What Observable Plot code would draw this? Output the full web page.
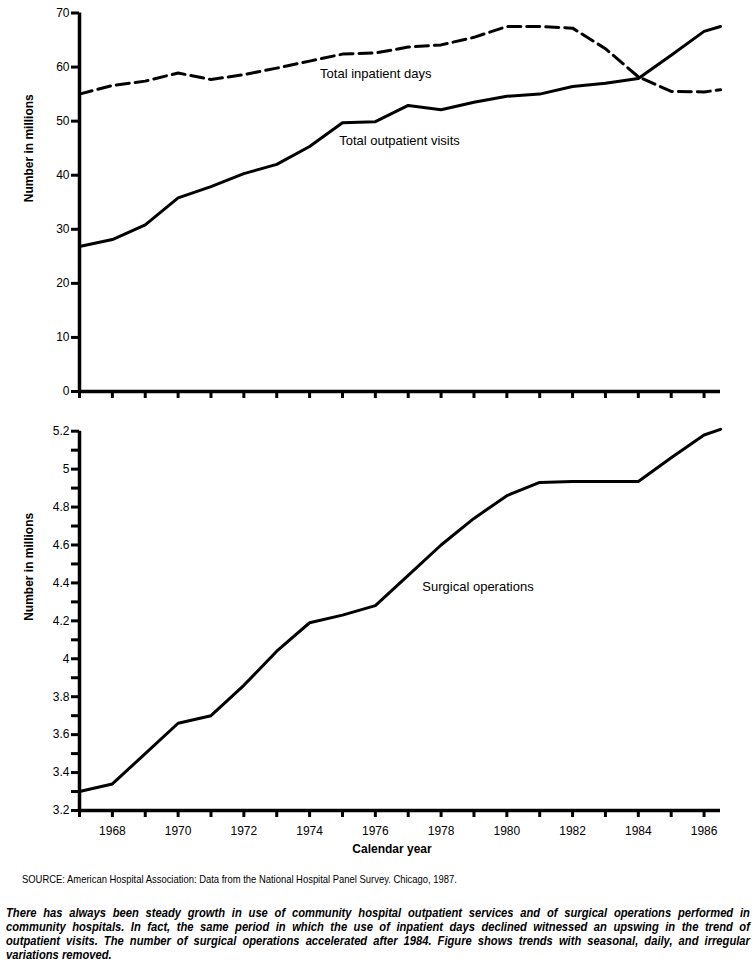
<!DOCTYPE html>
<html>
<head>
<meta charset="utf-8">
<script src="https://cdn.jsdelivr.net/npm/d3@7"></script>
<script src="https://cdn.jsdelivr.net/npm/@observablehq/plot@0.6"></script>
<style>
  html, body { margin: 0; padding: 0; background: #fff; }
  #wrap { position: relative; width: 755px; height: 967px; font-family: "Liberation Sans", Arial, sans-serif; color: #000; overflow: hidden; }
  #top, #bottom { position: absolute; left: 0; }
  #top { top: 0; }
  #bottom { top: 405px; }
  #source { position: absolute; left: 22px; top: 873px; font-size: 11.5px; white-space: nowrap; transform: scaleX(0.82); transform-origin: 0 0; }
  #caption { position: absolute; left: 6px; top: 906px; width: 865px; font-size: 13px; line-height: 14px; font-style: italic; font-weight: bold; transform: scaleX(0.86); transform-origin: 0 0; }
  #caption span { display: block; text-align: justify; text-align-last: justify; white-space: nowrap; }
  #caption span.last { text-align-last: left; }
</style>
</head>
<body>
<div id="wrap">
  <div id="top"></div>
  <div id="bottom"></div>
  <div id="source">SOURCE: American Hospital Association: Data from the National Hospital Panel Survey. Chicago, 1987.</div>
  <div id="caption"><span>There has always been steady growth in use of community hospital outpatient services and of surgical operations performed in</span><span>community hospitals. In fact, the same period in which the use of inpatient days declined witnessed an upswing in the trend of</span><span>outpatient visits. The number of surgical operations accelerated after 1984. Figure shows trends with seasonal, daily, and irregular</span><span class="last">variations removed.</span></div>
</div>
<script>
// ---- data ----
const years = [1967, 1968, 1969, 1970, 1971, 1972, 1973, 1974, 1975, 1976, 1977, 1978, 1979, 1980, 1981, 1982, 1983, 1984, 1985, 1986, 1986.5];
const inpatientDays = [55.0, 56.6, 57.4, 58.9, 57.7, 58.6, 59.8, 61.1, 62.4, 62.6, 63.7, 64.1, 65.5, 67.5, 67.5, 67.2, 63.4, 58.2, 55.5, 55.4, 55.8];
const outpatientVisits = [26.8, 28.1, 30.8, 35.8, 37.9, 40.3, 42.0, 45.3, 49.7, 49.9, 52.9, 52.1, 53.5, 54.6, 55.0, 56.4, 57.0, 57.9, 62.2, 66.6, 67.5];
const surgicalOps = [3.30, 3.34, 3.50, 3.66, 3.70, 3.86, 4.04, 4.19, 4.23, 4.28, 4.44, 4.60, 4.74, 4.86, 4.93, 4.935, 4.935, 4.935, 5.06, 5.18, 5.21];

const yearTicks = [1967, 1968, 1969, 1970, 1971, 1972, 1973, 1974, 1975, 1976, 1977, 1978, 1979, 1980, 1981, 1982, 1983, 1984, 1985, 1986];
const yearLabels = [1968, 1970, 1972, 1974, 1976, 1978, 1980, 1982, 1984, 1986];
const topYTicks = [0, 10, 20, 30, 40, 50, 60, 70];
const bottomYTicks = [3.2, 3.3, 3.4, 3.5, 3.6, 3.7, 3.8, 3.9, 4.0, 4.1, 4.2, 4.3, 4.4, 4.5, 4.6, 4.7, 4.8, 4.9, 5.0, 5.1, 5.2];
const bottomYLabels = [3.2, 3.4, 3.6, 3.8, 4.0, 4.2, 4.4, 4.6, 4.8, 5.0, 5.2];

const seriesLabels = [
  {name: "Total inpatient days", year: 1974.32, value: 58.8},
  {name: "Total outpatient visits", year: 1974.9, value: 46.4}
];
const surgLabel = [{name: "Surgical operations", year: 1977.43, value: 4.38}];

const topData = years.map((y, i) => ({year: y, inpatient: inpatientDays[i], outpatient: outpatientVisits[i]}));
const botData = years.map((y, i) => ({year: y, value: surgicalOps[i]}));

const font = "'Liberation Sans', Arial, sans-serif";
const xDomain = [1967, 1986.5];

const topChart = Plot.plot({
  width: 755, height: 405,
  marginLeft: 79, marginRight: 35, marginTop: 12.5, marginBottom: 14,
  x: {domain: xDomain},
  y: {domain: [0, 70]},
  style: {fontFamily: font, fontSize: "12px", color: "#000", background: "#fff", overflow: "visible"},
  marks: [
    Plot.axisY({ticks: topYTicks, tickSize: 8, tickPadding: 2, strokeWidth: 3, label: null, fontSize: 12}),
    Plot.axisX({ticks: yearTicks, tickSize: 7, strokeWidth: 3, tickFormat: () => "", label: null}),
    Plot.ruleX([1967], {strokeWidth: 3.5}),
    Plot.ruleY([0], {strokeWidth: 3.5}),
    Plot.line(topData, {x: "year", y: "inpatient", stroke: "#000", strokeWidth: 3, strokeDasharray: "13,6"}),
    Plot.line(topData, {x: "year", y: "outpatient", stroke: "#000", strokeWidth: 3}),
    Plot.text(seriesLabels, {x: "year", y: "value", text: "name", textAnchor: "start", fontSize: 13}),
    Plot.text(["Number in millions"], {frameAnchor: "left", rotate: -90, dx: -50, fontWeight: "bold", fontSize: 12})
  ]
});
document.getElementById("top").appendChild(topChart);

const botChart = Plot.plot({
  width: 755, height: 455,
  marginLeft: 79, marginRight: 35, marginTop: 25.7, marginBottom: 50,
  x: {domain: xDomain},
  y: {domain: [3.2, 5.2]},
  style: {fontFamily: font, fontSize: "12px", color: "#000", background: "#fff", overflow: "visible"},
  marks: [
    Plot.axisY({ticks: bottomYTicks, tickSize: 8, tickPadding: 2, strokeWidth: 3, label: null, fontSize: 12,
      tickFormat: d => bottomYLabels.some(v => Math.abs(v - d) < 1e-6) ? String(+d.toFixed(1)) : ""}),
    Plot.axisX({ticks: yearTicks, tickSize: 7, tickPadding: 9, strokeWidth: 3, label: null, fontSize: 12,
      tickFormat: d => yearLabels.includes(d) ? String(d) : ""}),
    Plot.ruleX([1967], {strokeWidth: 3.5}),
    Plot.ruleY([3.2], {strokeWidth: 3.5}),
    Plot.line(botData, {x: "year", y: "value", stroke: "#000", strokeWidth: 3}),
    Plot.text(surgLabel, {x: "year", y: "value", text: "name", textAnchor: "start", fontSize: 13}),
    Plot.text(["Number in millions"], {frameAnchor: "left", rotate: -90, dx: -50, fontWeight: "bold", fontSize: 12}),
    Plot.text(["Calendar year"], {frameAnchor: "bottom", dy: 42, dx: -8, fontWeight: "bold", fontSize: 12})
  ]
});
document.getElementById("bottom").appendChild(botChart);
</script>
</body>
</html>
